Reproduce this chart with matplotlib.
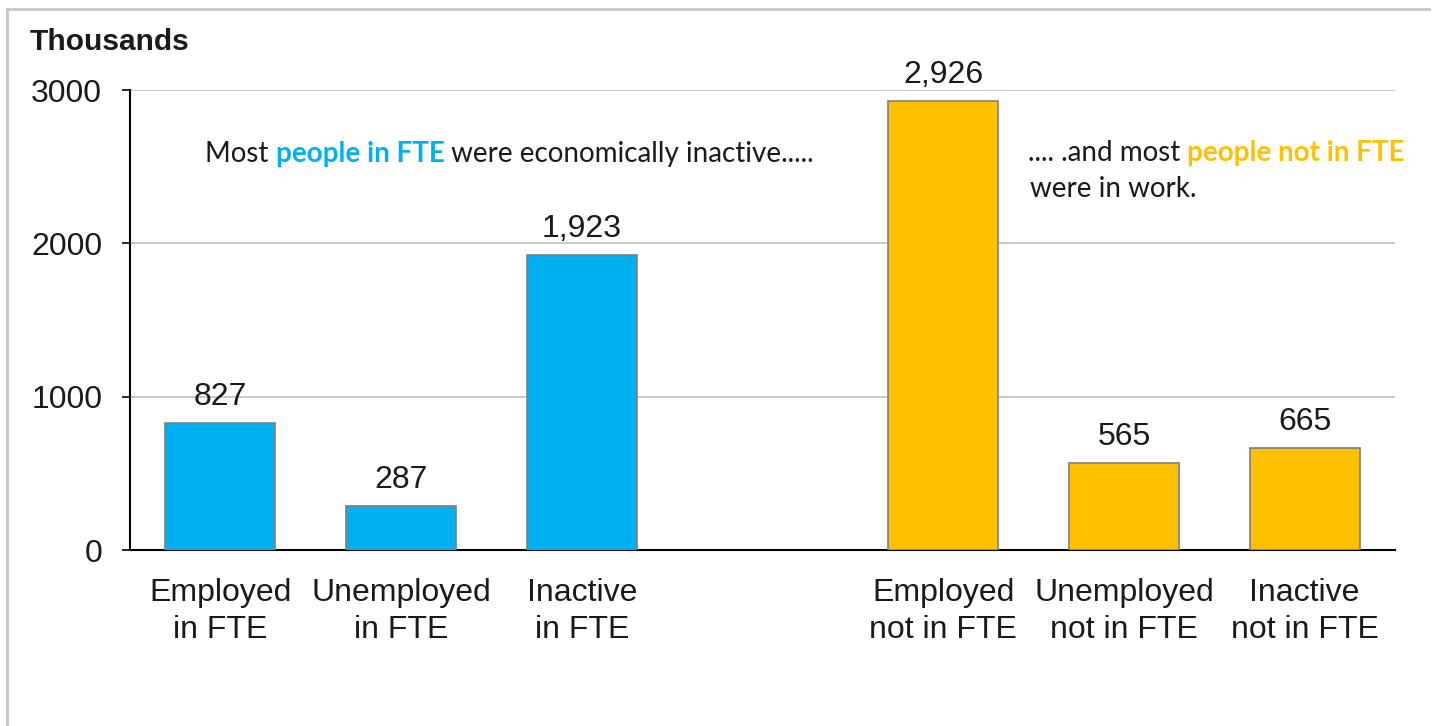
import matplotlib
matplotlib.use("Agg")
import matplotlib.pyplot as plt
from matplotlib.lines import Line2D

plt.rcParams['font.family'] = ['Liberation Sans', 'DejaVu Sans']

# Data (thousands of people)
categories = ["Employed\nin FTE", "Unemployed\nin FTE", "Inactive\nin FTE",
              "Employed\nnot in FTE", "Unemployed\nnot in FTE", "Inactive\nnot in FTE"]
values = [827, 287, 1923, 2926, 565, 665]
slots = [0, 1, 2, 4, 5, 6]          # slot 3 left empty as a gap between the groups
bar_colors = ["#00B0F0"] * 3 + ["#FFC000"] * 3
y_ticks = [0, 1000, 2000, 3000]

BLUE = "#00B0F0"
ORANGE = "#FFC000"
TEXT = "#1a1a1a"

fig = plt.figure(figsize=(14.34, 7.26), dpi=100)
ax = fig.add_axes([130 / 1434, 176 / 726, 1265 / 1434, 460 / 726])

ax.bar(slots, values, width=0.61, color=bar_colors, edgecolor="#7f7f7f",
       linewidth=1.2, zorder=3)

for x, v in zip(slots, values):
    ax.annotate(f"{v:,}", xy=(x, v), xytext=(0, 13), textcoords="offset points",
                ha="center", va="baseline", fontsize=23, color=TEXT)

ax.set_xlim(-0.5, 6.5)
ax.set_ylim(0, 3000)
ax.set_yticks(y_ticks)
ax.set_yticklabels([str(t) for t in y_ticks])
ax.set_xticks(slots)
ax.set_xticklabels(categories, fontsize=23, color=TEXT, linespacing=1.3)
ax.tick_params(axis="x", length=0, pad=20)
ax.tick_params(axis="y", length=6, width=1.2, pad=14, labelsize=23, labelcolor=TEXT,
               direction="out")

ax.grid(axis="y", color="#C0C0C0", linewidth=1.2, zorder=0)
ax.set_axisbelow(True)
for s in ("top", "right"):
    ax.spines[s].set_visible(False)
for s in ("left", "bottom"):
    ax.spines[s].set_color("#000000")
    ax.spines[s].set_linewidth(1.5)

# Axis unit caption
fig.text(30 / 1434, 1 - 42 / 726, "Thousands", fontsize=21.5, fontweight="bold",
         color=TEXT, ha="left", va="center")


def rich_line(x, y, pieces, size=20):
    """Draw consecutive coloured text pieces on one line, starting at figure coords."""
    prev = None
    for txt, color, weight in pieces:
        kw = dict(fontsize=size, color=color, fontweight=weight,
                  family=["Lato", "DejaVu Sans"], va="bottom", ha="left")
        if prev is None:
            prev = fig.text(x, y, txt, **kw)
        else:
            prev = ax.annotate(txt, xy=(1, 0), xycoords=prev, **kw)
    return prev


rich_line(205 / 1434, 1 - 167 / 726, [
    ("Most ", TEXT, "normal"),
    ("people in FTE", BLUE, "bold"),
    (" were economically inactive.....", TEXT, "normal"),
])
rich_line(1028 / 1434, 1 - 166 / 726, [
    (".... .and most ", TEXT, "normal"),
    ("people not in FTE", ORANGE, "bold"),
])
rich_line(1030 / 1434, 1 - 202 / 726, [
    ("were in work.", TEXT, "normal"),
])

# Light frame around the chart area
frame_kw = dict(color="#C8C8C8", linewidth=2, transform=fig.transFigure)
fig.add_artist(Line2D([7 / 1434, 1429 / 1434], [1 - 9 / 726, 1 - 9 / 726], **frame_kw))
fig.add_artist(Line2D([7 / 1434, 7 / 1434], [0, 1 - 9 / 726], **frame_kw))

fig.savefig("out.png", dpi=100)
